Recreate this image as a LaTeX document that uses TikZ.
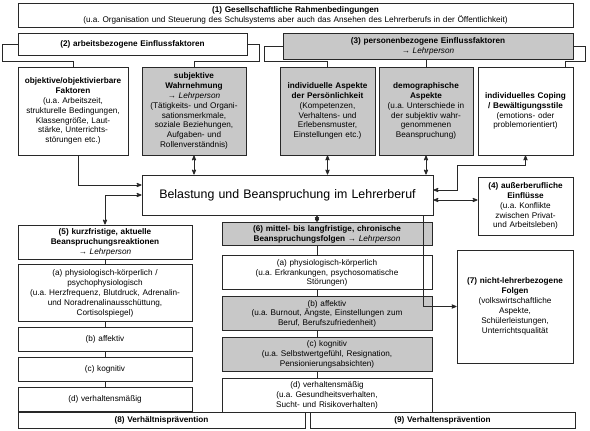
\documentclass[tikz,border=0pt]{standalone}
\usepackage{fontspec}
\setmainfont{Liberation Sans}
\usetikzlibrary{arrows,positioning}
\definecolor{boxgray}{RGB}{200,200,200}
\definecolor{linegray}{RGB}{40,40,40}
\frenchspacing

\begin{document}
\begin{tikzpicture}[x=1pt,y=-1pt,>=stealth',line width=0.8pt]
  \tikzstyle{box}=[draw=linegray,fill=white,align=center,inner sep=1pt,line width=0.9pt,font=\fontsize{8.2}{9.9}\selectfont]
  \tikzstyle{graybox}=[box,fill=boxgray]
  \tikzstyle{link}=[draw=linegray]

  \useasboundingbox (0,0) rectangle (590,431);

  % top
  \node[box,minimum width=555pt,minimum height=24pt,text width=550pt] (rahmen) at (295.5,15)
    {\textbf{(1) Gesellschaftliche Rahmenbedingungen}\\(u.a. Organisation und Steuerung des Schulsystems aber auch das Ansehen des Lehrerberufs in der Öffentlichkeit)};
  \node[box,minimum width=229pt,minimum height=22pt,text width=224pt] (arbeit) at (132.5,44)
    {\textbf{(2) arbeitsbezogene Einflussfaktoren}};
  \node[graybox,minimum width=290pt,minimum height=26pt,text width=285pt] (person) at (428,46)
    {\textbf{(3) personenbezogene Einflussfaktoren}\\→ \textit{Lehrperson}};

  % factors
  \node[box,minimum width=110pt,minimum height=88pt,text width=106pt] (objektiv) at (73,111)
    {\textbf{objektive/objektivierbare}\\\textbf{Faktoren}\\(u.a. Arbeitszeit,\\strukturelle Bedingungen,\\Klassengröße, Laut-\\stärke, Unterrichts-\\störungen etc.)};
  \node[graybox,minimum width=104pt,minimum height=88pt,text width=100pt] (subjektiv) at (194,111)
    {\textbf{subjektive}\\\textbf{Wahrnehmung}\\→ \textit{Lehrperson}\\(Tätigkeits- und Organi-\\sationsmerkmale,\\soziale Beziehungen,\\Aufgaben- und\\Rollenverständnis)};
  \node[graybox,minimum width=95pt,minimum height=88pt,text width=91pt] (persoenl) at (327.5,111)
    {\textbf{individuelle Aspekte}\\\textbf{der Persönlichkeit}\\(Kompetenzen,\\Verhaltens- und\\Erlebensmuster,\\Einstellungen etc.)};
  \node[graybox,minimum width=94pt,minimum height=88pt,text width=90pt] (demograf) at (426,111)
    {\textbf{demographische}\\\textbf{Aspekte}\\(u.a. Unterschiede in\\der subjektiv wahr-\\genommenen\\Beanspruchung)};
  \node[box,minimum width=95pt,minimum height=88pt,text width=91pt] (coping) at (525.5,111)
    {\textbf{individuelles Coping}\\\textbf{/ Bewältigungsstile}\\(emotions- oder\\problemorientiert)};

  % centre
  \node[box,minimum width=291pt,minimum height=40pt,text width=286pt,font=\fontsize{12.4}{14}\selectfont] (belastung) at (287.5,195)
    {Belastung und Beanspruchung im Lehrerberuf};
  \node[box,minimum width=95pt,minimum height=58pt,text width=91pt] (ausser) at (525.5,206)
    {\textbf{(4) außerberufliche}\\\textbf{Einflüsse}\\(u.a. Konflikte\\zwischen Privat-\\und Arbeitsleben)};

  % short term
  \node[box,minimum width=174pt,minimum height=34pt,text width=170pt] (kurz) at (105,242)
    {\textbf{(5) kurzfristige, aktuelle}\\\textbf{Beanspruchungsreaktionen}\\→ \textit{Lehrperson}};
  \node[box,minimum width=174pt,minimum height=57pt,text width=170pt,below=5pt of kurz] (kurz-a)
    {(a) physiologisch-körperlich /\\psychophysiologisch\\(u.a. Herzfrequenz, Blutdruck, Adrenalin-\\und Noradrenalinausschüttung,\\Cortisolspiegel)};
  \node[box,minimum width=174pt,minimum height=24pt,text width=170pt,below=5pt of kurz-a] (kurz-b) {(b) affektiv};
  \node[box,minimum width=174pt,minimum height=24pt,text width=170pt,below=5pt of kurz-b] (kurz-c) {(c) kognitiv};
  \node[box,minimum width=174pt,minimum height=24pt,text width=170pt,below=5pt of kurz-c] (kurz-d) {(d) verhaltensmäßig};

  % long term
  \node[graybox,minimum width=210pt,minimum height=23pt,text width=206pt] (lang) at (327,234)
    {\textbf{(6) mittel- bis langfristige, chronische}\\\textbf{Beanspruchungsfolgen} → \textit{Lehrperson}};
  \node[box,minimum width=210pt,minimum height=34pt,text width=206pt,below=9.5pt of lang] (lang-a)
    {(a) physiologisch-körperlich\\(u.a. Erkrankungen, psychosomatische\\Störungen)};
  \node[graybox,minimum width=210pt,minimum height=34pt,text width=206pt,below=6pt of lang-a] (lang-b)
    {(b) affektiv\\(u.a. Burnout, Ängste, Einstellungen zum\\Beruf, Berufszufriedenheit)};
  \node[graybox,minimum width=210pt,minimum height=34pt,text width=206pt,below=6pt of lang-b] (lang-c)
    {(c) kognitiv\\(u.a. Selbstwertgefühl, Resignation,\\Pensionierungsabsichten)};
  \node[box,minimum width=210pt,minimum height=34pt,text width=206pt,below=6pt of lang-c] (lang-d)
    {(d) verhaltensmäßig\\(u.a. Gesundheitsverhalten,\\Sucht- und Risikoverhalten)};

  \node[box,minimum width=116pt,minimum height=113pt,text width=112pt] (nichtlehrer) at (515,306.5)
    {\textbf{(7) nicht-lehrerbezogene}\\\textbf{Folgen}\\(volkswirtschaftliche\\Aspekte,\\Schülerleistungen,\\Unterrichtsqualität};

  % prevention
  \node[box,minimum width=287pt,minimum height=16pt,text width=283pt] (verhaeltnis) at (161.5,420)
    {\textbf{(8) Verhältnisprävention}};
  \node[box,minimum width=265pt,minimum height=16pt,text width=261pt] (verhalten) at (442.5,420)
    {\textbf{(9) Verhaltensprävention}};

  % brackets
  \draw[link] (arbeit.west) -- ++(-15,0) |- ([yshift=5pt]objektiv.north) -- (objektiv.north);
  \draw[link] (arbeit.east) -- ++(12,0) |- ([yshift=5pt]subjektiv.north) -- (subjektiv.north);
  \draw[link] (person.west) -- ++(-18,0) |- ([yshift=5pt]persoenl.north) -- (persoenl.north);
  \draw[link] (person.south -| demograf.north) -- (demograf.north);
  \draw[link] (person.east) -- ++(12,0) |- ([xshift=40pt,yshift=5pt]coping.north) -- ([xshift=40pt]coping.north);

  % arrows
  \draw[link,<->] (subjektiv.south) -- (subjektiv.south |- belastung.north);
  \draw[link,<->] (persoenl.south) -- (persoenl.south |- belastung.north);
  \draw[link,<->] (demograf.south) -- (demograf.south |- belastung.north);
  \draw[link,->] ([xshift=5pt]objektiv.south) |- ([yshift=10pt]belastung.west);
  \draw[link,<->] (belastung.west) -| (kurz.north);
  \draw[link,<->] ([yshift=5pt]belastung.east) -| ++(24,-25) -| (coping.south);
  \draw[link,<->] ([yshift=-5pt]belastung.east) -- ([yshift=-5pt]belastung.east -| ausser.west);
  \draw[link,<->] ([xshift=-10pt]lang.north) -- ([xshift=-10pt]lang.north |- belastung.south);
  \draw[link,->] ([xshift=135.5pt]belastung.south) |- (nichtlehrer.west);

  % chains
  \foreach \a/\b in {kurz/kurz-a,kurz-a/kurz-b,kurz-b/kurz-c,kurz-c/kurz-d}
    \draw[link] (\a.south) -- (\b.north);
  \foreach \a/\b in {lang/lang-a,lang-a/lang-b,lang-b/lang-c,lang-c/lang-d}
    \draw[link] ([xshift=-10pt]\a.south) -- ([xshift=-10pt]\b.north);
\end{tikzpicture}
\end{document}
